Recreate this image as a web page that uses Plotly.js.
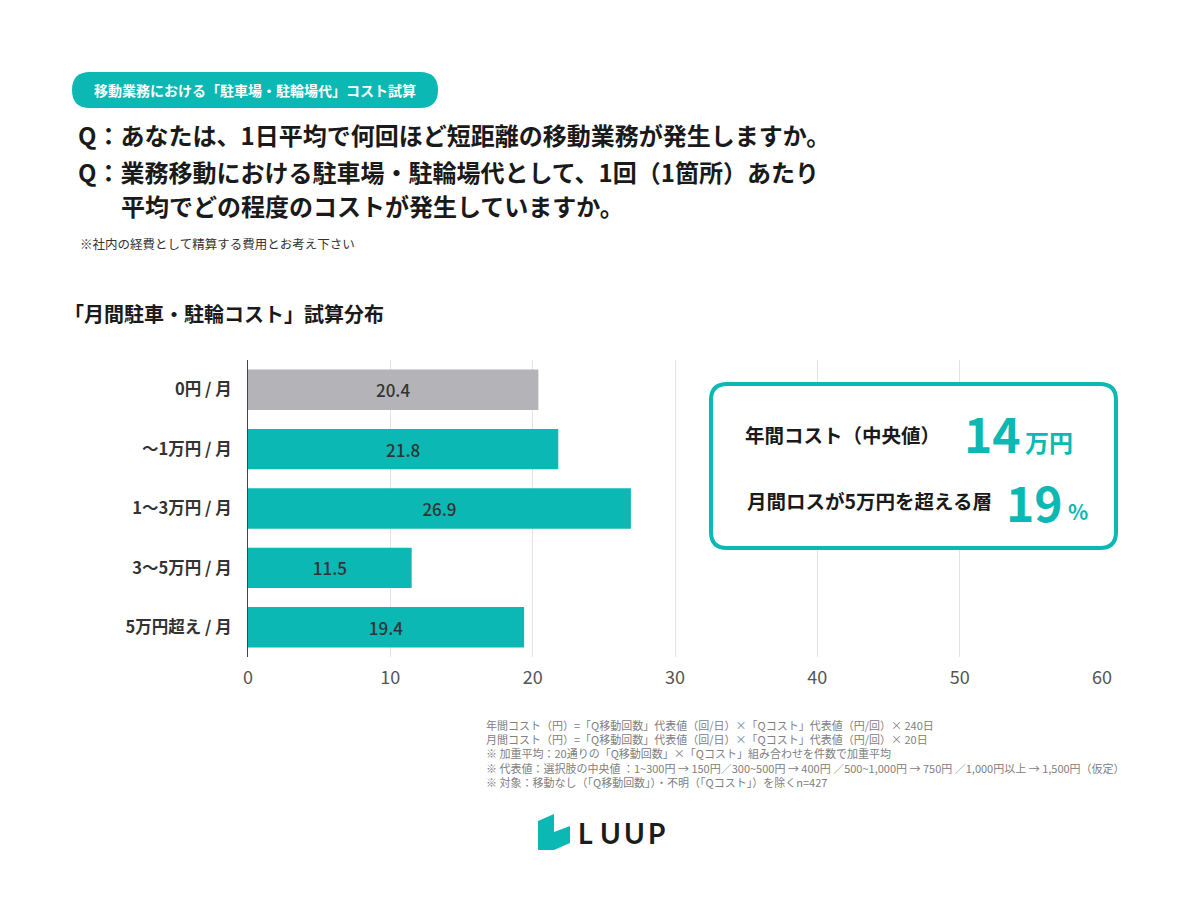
<!DOCTYPE html>
<html>
<head>
<meta charset="utf-8">
<script src="https://cdn.plot.ly/plotly-3.0.1.min.js"></script>
<style>
  html, body { margin: 0; padding: 0; background: #ffffff; }
  #chart { width: 1200px; height: 904px; }
</style>
</head>
<body>
<div id="chart"></div>
<script>
// Monthly parking / bicycle-parking cost distribution (%)
const categories = ["0円 / 月", "〜1万円 / 月", "1〜3万円 / 月", "3〜5万円 / 月", "5万円超え / 月"];
const shares = [20.4, 21.8, 26.9, 11.5, 19.4];
const barColors = ["#b4b3b8", "#0cb8b3", "#0cb8b3", "#0cb8b3", "#0cb8b3"];
const xTicks = [0, 10, 20, 30, 40, 50, 60];

const headline = "移動業務における「駐車場・駐輪場代」コスト試算";
const questions = [
  "Q：あなたは、1日平均で何回ほど短距離の移動業務が発生しますか。",
  "Q：業務移動における駐車場・駐輪場代として、1回（1箇所）あたり",
  "平均でどの程度のコストが発生していますか。"
];
const note = "※社内の経費として精算する費用とお考え下さい";
const chartTitle = "「月間駐車・駐輪コスト」試算分布";
const summaryLabels = ["年間コスト（中央値）", "月間ロスが5万円を超える層"];
const summaryValues = ["14", "19"];
const summaryUnits = ["万円", "%"];
const footnotes = [
  "年間コスト（円）=「Q移動回数」代表値（回/日）×「Qコスト」代表値（円/回）× 240日",
  "月間コスト（円）=「Q移動回数」代表値（回/日）×「Qコスト」代表値（円/回）× 20日",
  "※ 加重平均：20通りの「Q移動回数」×「Qコスト」組み合わせを件数で加重平均",
  "※ 代表値：選択肢の中央値 ：1~300円 → 150円／300~500円 → 400円 ／500~1,000円 → 750円 ／1,000円以上 → 1,500円（仮定）",
  "※ 対象：移動なし（「Q移動回数」）・不明（「Qコスト」）を除くn=427"
];
const brand = ["L", "U", "U", "P"];

const W = 1200, H = 904;
const FONT = "'Noto Sans CJK JP', 'Noto Sans', sans-serif";
const TEAL = "#0cb8b3";
const px = x => x / W;
const py = y => 1 - y / H;

// rounded rectangle path in paper coordinates
function roundRect(x0, y0, x1, y1, r) {
  const P = (x, y) => px(x) + "," + py(y);
  return "M" + P(x0 + r, y0) + " L" + P(x1 - r, y0) + " Q" + P(x1, y0) + " " + P(x1, y0 + r) +
    " L" + P(x1, y1 - r) + " Q" + P(x1, y1) + " " + P(x1 - r, y1) +
    " L" + P(x0 + r, y1) + " Q" + P(x0, y1) + " " + P(x0, y1 - r) +
    " L" + P(x0, y0 + r) + " Q" + P(x0, y0) + " " + P(x0 + r, y0) + " Z";
}
function polygon(pts) {
  return "M" + pts.map(p => px(p[0]) + "," + py(p[1])).join(" L") + " Z";
}

const trace = {
  type: "bar",
  orientation: "h",
  y: categories,
  x: shares,
  marker: { color: barColors, line: { width: 0 } },
  text: shares.map(v => v.toFixed(1)),
  textposition: "inside",
  insidetextanchor: "middle",
  textfont: { family: FONT, size: 17, color: "#333333", weight: 500 },
  hoverinfo: "skip",
  cliponaxis: false
};

function txt(x, y, text, size, color, opts) {
  return Object.assign({
    xref: "paper", yref: "paper", x: px(x), y: py(y), text: text,
    showarrow: false, xanchor: "left", yanchor: "middle",
    font: { family: FONT, size: size, color: color }
  }, opts || {});
}

const annotations = [
  txt(255, 90, "<b>" + headline + "</b>", 14, "#ffffff", { xanchor: "center" }),
  txt(76, 135, "<b>" + questions[0] + "</b>", 24, "#1a1a1a"),
  txt(76, 172, "<b>" + questions[1] + "</b>", 24, "#1a1a1a"),
  txt(119, 206, "<b>" + questions[2] + "</b>", 24, "#1a1a1a"),
  txt(78, 243, note, 12.5, "#333333"),
  txt(62, 314, "<b>" + chartTitle + "</b>", 20, "#1a1a1a"),
  txt(942, 435, "<b>" + summaryLabels[0] + "</b>", 19.5, "#1a1a1a", { xanchor: "right" }),
  txt(962, 432, "<b>" + summaryValues[0] + "</b>", 48, TEAL),
  txt(1023, 442, "<b>" + summaryUnits[0] + "</b>", 24, TEAL),
  txt(994, 500, "<b>" + summaryLabels[1] + "</b>", 19.5, "#1a1a1a", { xanchor: "right" }),
  txt(1004, 501, "<b>" + summaryValues[1] + "</b>", 48, TEAL),
  txt(1066, 511, "<b>" + summaryUnits[1] + "</b>", 21, TEAL)
];
footnotes.forEach((f, i) => annotations.push(txt(484, 725 + i * 14.2, f, 11, "#808080")));
const brandX = [585, 610, 634, 656];
brand.forEach((c, i) => annotations.push(txt(brandX[i], 833, "<b>" + c + "</b>", 28, "#1c1c1c",
  { xanchor: "center", font: { family: "Lato, 'Noto Sans', sans-serif", size: 28, color: "#1c1c1c", weight: 900 } })));

const shapes = [
  { type: "path", xref: "paper", yref: "paper", path: roundRect(72, 72, 438, 108, 18),
    fillcolor: TEAL, line: { width: 0 }, layer: "above" },
  { type: "path", xref: "paper", yref: "paper", path: roundRect(711, 384, 1116, 548, 16),
    fillcolor: "#ffffff", line: { color: TEAL, width: 4 }, layer: "above" },
  { type: "path", xref: "paper", yref: "paper",
    path: polygon([[538, 821], [554, 814], [554, 832], [570, 826], [570, 843], [554, 850], [538, 850]]),
    fillcolor: TEAL, line: { width: 0 }, layer: "above" }
];

const layout = {
  width: W, height: H,
  margin: { l: 0, r: 0, t: 0, b: 0 },
  paper_bgcolor: "#ffffff", plot_bgcolor: "#ffffff",
  showlegend: false,
  bargap: 0.32,
  font: { family: FONT },
  xaxis: {
    domain: [px(248), px(1102)],
    range: [0, 60],
    tickvals: xTicks,
    ticktext: xTicks.map(String),
    showgrid: true, gridcolor: "#e3e3e6", gridwidth: 1,
    zeroline: false, showline: false,
    ticks: "", ticklabelstandoff: 8,
    tickfont: { family: FONT, size: 18, color: "#555555" },
    fixedrange: true
  },
  yaxis: {
    domain: [py(657), py(360)],
    autorange: "reversed",
    showgrid: false, zeroline: false,
    showline: true, linecolor: "#444444", linewidth: 1,
    ticks: "", ticklabelstandoff: 12,
    tickfont: { family: FONT, size: 16.5, color: "#333333", weight: "bold" },
    fixedrange: true
  },
  shapes: shapes,
  annotations: annotations
};

Plotly.newPlot("chart", [trace], layout, { displayModeBar: false, staticPlot: true });
</script>
</body>
</html>
